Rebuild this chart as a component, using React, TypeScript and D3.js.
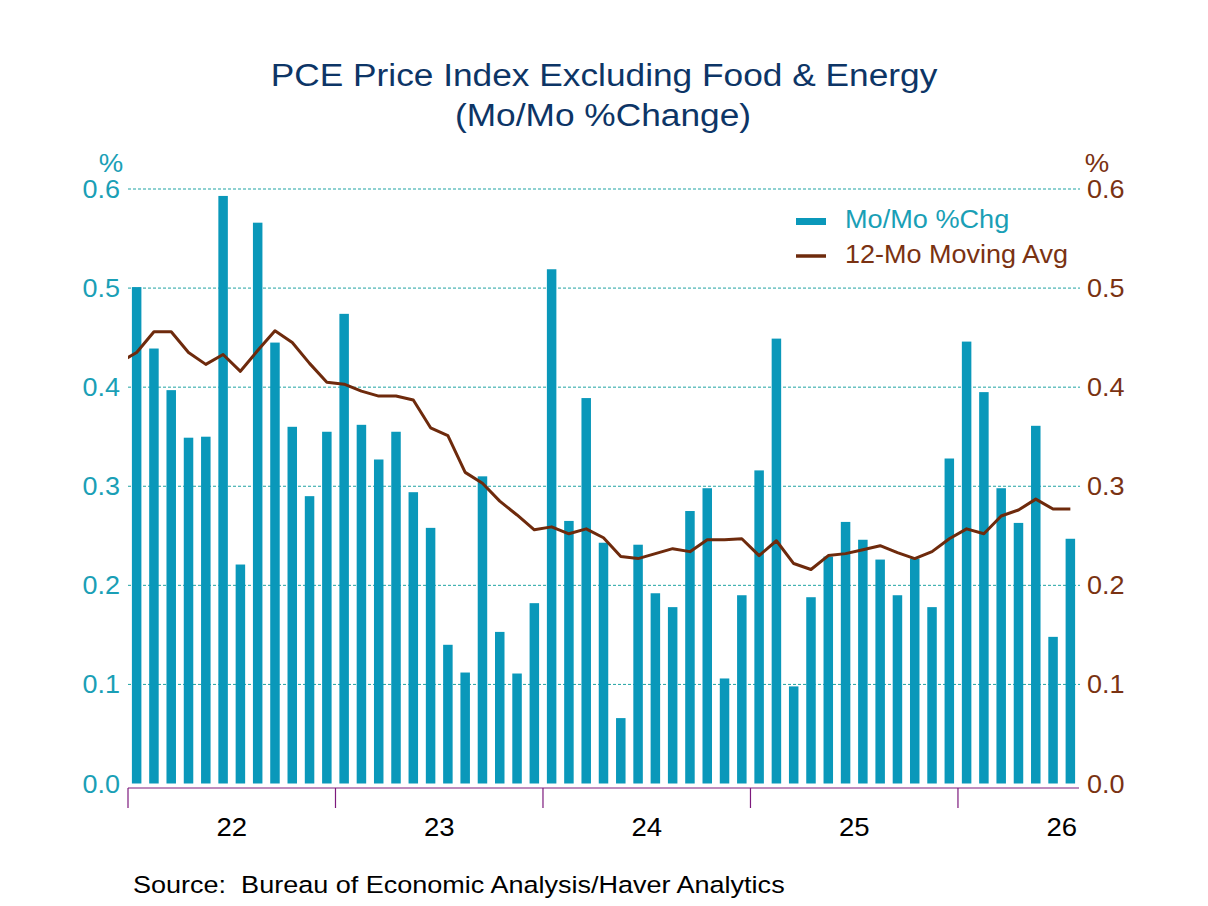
import React from 'react';
import * as d3 from 'd3';

// Monthly % change, Jan 2022 onward
const moMoChg: number[] = [
  0.501, 0.439, 0.397, 0.349, 0.35, 0.593, 0.221, 0.566, 0.445, 0.36, 0.29, 0.355,
  0.474, 0.362, 0.327, 0.355, 0.294, 0.258, 0.14, 0.112, 0.31, 0.153, 0.111, 0.182,
  0.519, 0.265, 0.389, 0.243, 0.066, 0.241, 0.192, 0.178, 0.275, 0.298, 0.106, 0.19,
  0.316, 0.449, 0.098, 0.188, 0.229, 0.264, 0.246, 0.226, 0.19, 0.227, 0.178, 0.328,
  0.446, 0.395, 0.298, 0.263, 0.361, 0.148, 0.247,
];

// 12-month moving average, starting one month earlier (Dec 2021)
const movingAvg: number[] = [
  0.425,
  0.435, 0.456, 0.456, 0.435, 0.423, 0.433, 0.416, 0.437, 0.457, 0.445, 0.424, 0.405,
  0.403, 0.396, 0.391, 0.391, 0.387, 0.359, 0.351, 0.314, 0.303, 0.285, 0.271, 0.256,
  0.259, 0.252, 0.257, 0.248, 0.229, 0.227, 0.232, 0.237, 0.234, 0.246, 0.246, 0.247,
  0.23, 0.245, 0.222, 0.216, 0.23, 0.232, 0.236, 0.24, 0.233, 0.227, 0.234, 0.247,
  0.257, 0.252, 0.27, 0.276, 0.287, 0.277, 0.277,
];

const yearLabels = ['22', '23', '24', '25', '26'];
const yTicks = [0, 0.1, 0.2, 0.3, 0.4, 0.5, 0.6];

const BAR = '#0a98ba';
const LINE = '#6e2a0c';
const LEFT_TXT = '#1a9fb6';
const RIGHT_TXT = '#7a3212';
const TITLE = '#0d3566';
const AXIS = '#7d1a7d';
const FONT = '"Liberation Sans", Arial, sans-serif';

const W = 1208;
const H = 906;
const X0 = 128;
const X1 = 1079;

// text with a horizontal stretch (the source's font runs a bit wider)
const Wide: React.FC<{
  x: number;
  y: number;
  sx?: number;
  anchor?: 'start' | 'middle' | 'end';
  size: number;
  fill: string;
  children: React.ReactNode;
}> = ({ x, y, sx = 1.1, anchor = 'start', size, fill, children }) => (
  <text transform={`translate(${x},${y}) scale(${sx},1)`} textAnchor={anchor} fontSize={size} fill={fill}>
    {children}
  </text>
);

const App: React.FC = () => {
  const nMonths = 55;
  const x = d3.scaleLinear().domain([0, nMonths]).range([X0, X1]);
  const y = d3.scaleLinear().domain([0, 0.6]).range([783.5, 189]);
  const barW = 9.5;

  const lineGen = d3
    .line<number>()
    .x((_, i) => x(i - 1 + 0.5))
    .y(d => y(d));

  return (
    <svg width={W} height={H} style={{ position: 'absolute', left: 0, top: 0, background: '#fff' }} fontFamily={FONT}>
      <defs>
        <clipPath id="plotClip">
          <rect x={X0} y={150} width={X1 - X0 + 2} height={650} />
        </clipPath>
      </defs>
      <rect width={W} height={H} fill="#fff" />

      {/* title */}
      <Wide x={604} y={86} sx={1.12} anchor="middle" size={31.5} fill={TITLE}>
        PCE Price Index Excluding Food &amp; Energy
      </Wide>
      <Wide x={603} y={126} sx={1.12} anchor="middle" size={31.5} fill={TITLE}>
        (Mo/Mo %Change)
      </Wide>

      {/* gridlines */}
      {yTicks.filter(t => t > 0).map(t => (
        <line
          key={t}
          x1={X0}
          x2={X1 + 1}
          y1={y(t)}
          y2={y(t)}
          stroke="#1fa3a3"
          strokeWidth={1}
          strokeDasharray="3,2"
        />
      ))}

      {/* y labels */}
      <Wide x={111} y={172} anchor="middle" size={25} fill={LEFT_TXT}>%</Wide>
      <Wide x={1097} y={172} anchor="middle" size={25} fill={RIGHT_TXT}>%</Wide>
      {yTicks.map(t => (
        <g key={t}>
          <Wide x={120} y={y(t) + 9} sx={1.06} anchor="end" size={25.5} fill={LEFT_TXT}>
            {t.toFixed(1)}
          </Wide>
          <Wide x={1087} y={y(t) + 9} sx={1.06} anchor="start" size={25.5} fill={RIGHT_TXT}>
            {t.toFixed(1)}
          </Wide>
        </g>
      ))}

      {/* bars */}
      {moMoChg.map((v, i) => (
        <rect
          key={i}
          x={x(i + 0.5) - barW / 2}
          y={y(v)}
          width={barW}
          height={y(0) - y(v)}
          fill={BAR}
        />
      ))}

      {/* moving average */}
      <path
        d={lineGen(movingAvg) || ''}
        fill="none"
        stroke={LINE}
        strokeWidth={3}
        strokeLinejoin="round"
        clipPath="url(#plotClip)"
      />

      {/* x axis */}
      <line x1={X0} x2={X1} y1={788} y2={788} stroke={AXIS} strokeWidth={1.2} />
      {yearLabels.map((lab, k) => (
        <g key={lab}>
          <line x1={x(12 * k)} x2={x(12 * k)} y1={788} y2={808} stroke={AXIS} strokeWidth={1.2} />
          <Wide x={x(12 * k + 6)} y={836} sx={1.08} anchor="middle" size={25.5} fill="#000">
            {lab}
          </Wide>
        </g>
      ))}

      {/* legend */}
      <rect x={796} y={218} width={30} height={7} fill={BAR} />
      <Wide x={845} y={228} sx={1.085} size={25} fill={LEFT_TXT}>Mo/Mo %Chg</Wide>
      <line x1={796} x2={826} y1={256} y2={256} stroke={LINE} strokeWidth={3.5} />
      <Wide x={845} y={263} sx={1.08} size={25} fill={RIGHT_TXT}>12-Mo Moving Avg</Wide>

      {/* source */}
      <Wide x={133} y={893} sx={1.15} size={23.5} fill="#000">
        Source:{'\u00a0\u00a0'}Bureau of Economic Analysis/Haver Analytics
      </Wide>
    </svg>
  );
};

export default App;
